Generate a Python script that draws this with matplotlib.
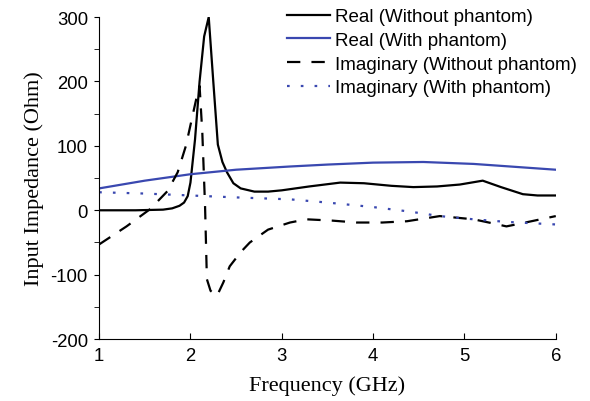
import matplotlib
matplotlib.use("Agg")
import matplotlib.pyplot as plt
from matplotlib.ticker import MultipleLocator

plt.rcParams["axes.unicode_minus"] = False

# Real part, without phantom (black solid)
f_re_wo = [1.0, 1.4, 1.7, 1.8, 1.88, 1.93, 1.97, 2.0, 2.05, 2.1, 2.15, 2.2, 2.25, 2.3, 2.35, 2.4,
           2.47, 2.55, 2.7, 2.85, 3.0, 3.3, 3.64, 3.9, 4.2, 4.44, 4.7, 4.95, 5.2, 5.4, 5.64, 5.8, 6.0]
z_re_wo = [0, 0, 1, 3, 7, 12, 22, 43, 110, 200, 270, 300, 200, 102, 75, 59,
           42, 34, 29, 29, 31, 37, 43, 42, 38, 36, 37, 40, 46, 36, 25, 23, 23]

# Real part, with phantom (blue solid)
f_re_w = [1.0, 1.5, 2.0, 2.5, 3.09, 3.5, 4.0, 4.55, 5.1, 5.5, 6.0]
z_re_w = [34, 46, 56, 63, 68, 71, 74, 75, 72, 68, 63]

# Imaginary part, without phantom (black dashed)
f_im_wo = [1.0, 1.3, 1.56, 1.75, 1.86, 1.95, 2.02, 2.07, 2.1, 2.13, 2.16, 2.18, 2.22, 2.29,
           2.36, 2.43, 2.55, 2.65, 2.85, 3.09, 3.27, 3.55, 3.82, 4.1, 4.37, 4.73, 5.1, 5.3, 5.46, 5.7, 6.0]
z_im_wo = [-53, -25, 2, 30, 59, 100, 145, 177, 193, 120, 6, -107, -125, -133,
           -112, -87, -65, -50, -30, -19, -14, -16, -19, -19, -17, -9, -14, -20, -25, -18, -9]

# Imaginary part, with phantom (blue dotted)
f_im_w = [1.0, 1.5, 2.0, 2.5, 3.09, 3.5, 4.0, 4.4, 4.73, 5.1, 5.46, 6.0]
z_im_w = [28, 26, 23, 20, 17, 12, 5, -2, -9, -14, -18, -22]

labels = ["Real (Without phantom)", "Real (With phantom)",
          "Imaginary (Without phantom)", "Imaginary (With phantom)"]

blue = "#3a48b0"

fig = plt.figure(figsize=(5.9, 4.02), dpi=100)
ax = fig.add_axes([0.168, 0.154, 0.774, 0.801])

ax.plot(f_re_wo, z_re_wo, color="black", lw=1.6, label=labels[0])
ax.plot(f_re_w, z_re_w, color=blue, lw=1.6, label=labels[1])
ax.plot(f_im_wo, z_im_wo, color="black", lw=1.6, dashes=(6, 5), label=labels[2])
ax.plot(f_im_w, z_im_w, color=blue, lw=1.6, dashes=(1.2, 5), label=labels[3])

ax.set_xlim(1, 6)
ax.set_ylim(-200, 300)
ax.xaxis.set_major_locator(MultipleLocator(1))
ax.yaxis.set_major_locator(MultipleLocator(100))
ax.yaxis.set_minor_locator(MultipleLocator(50))

for s in ["top", "right"]:
    ax.spines[s].set_visible(False)

ax.tick_params(axis="x", direction="in", length=4, labelsize=13.3, pad=6)
ax.tick_params(axis="y", which="both", direction="out", length=3.6, labelsize=13.3, pad=4.5)
for lab in ax.get_xticklabels() + ax.get_yticklabels():
    lab.set_family("Liberation Sans")

ax.set_xlabel("Frequency (GHz)", family="Liberation Serif", fontsize=16, labelpad=8)
ax.set_ylabel("Input Impedance (Ohm)", family="Liberation Serif", fontsize=16, labelpad=5)

leg = ax.legend(loc="upper left", bbox_to_anchor=(287 / 590, 1 - 9 / 402),
                bbox_transform=fig.transFigure, frameon=False,
                prop={"family": "Liberation Sans", "size": 13.5}, handlelength=2.3,
                handletextpad=0.25, labelspacing=0.35, borderpad=0, borderaxespad=0)

fig.savefig("out.png", dpi=100)
